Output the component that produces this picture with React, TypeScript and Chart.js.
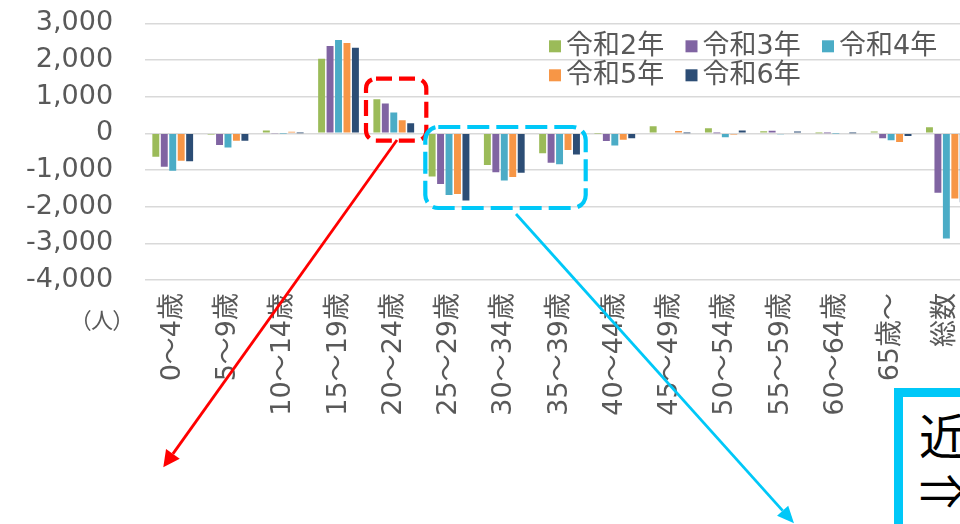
import React, { useEffect, useRef } from "react";
import { Chart, registerables } from "chart.js";

Chart.register(...registerables);

const categories = [
  "0～4歳", "5～9歳", "10～14歳", "15～19歳", "20～24歳", "25～29歳", "30～34歳",
  "35～39歳", "40～44歳", "45～49歳", "50～54歳", "55～59歳", "60～64歳", "65歳～", "総数",
];

const seriesLabels = ["令和2年", "令和3年", "令和4年", "令和5年", "令和6年"];

const r2 = [-640, -30, 80, 2030, 930, -1180, -865, -545, -5, 190, 135, 55, 5, 50, 165];
const r3 = [-910, -320, -10, 2380, 810, -1380, -1065, -800, -210, -20, 5, 70, 5, -135, -1620];
const r4 = [-1020, -390, -5, 2545, 565, -1680, -1290, -845, -335, -20, -110, -25, -5, -190, -2865];
const r5 = [-745, -200, 40, 2460, 355, -1655, -1190, -455, -175, 60, -30, 20, -20, -235, -1775];
const r6 = [-760, -200, 5, 2330, 275, -1830, -1075, -580, -135, 5, 80, 50, 5, -70, -1880];

const yMin = -4000;
const yMax = 3000;
const yStep = 1000;

const seriesColors = ["#9BBB59", "#8064A2", "#4BACC6", "#F79646", "#2C4D75"];

const FONT = "'DejaVu Sans', 'Noto Sans CJK JP', sans-serif";
const GRAY = "#595959";

const legendPlugin = {
  id: "customLegend",
  afterDraw(chart: any) {
    const ctx = chart.ctx;
    ctx.save();
    ctx.font = `27px ${FONT}`;
    ctx.textBaseline = "middle";
    ctx.textAlign = "left";
    chart.data.datasets.forEach((ds: any, i: number) => {
      const col = i % 3;
      const row = Math.floor(i / 3);
      const x = 549 + col * 136.5;
      const y = 46.3 + row * 29;
      ctx.fillStyle = ds.backgroundColor;
      ctx.fillRect(x, y - 6, 12, 12);
      ctx.fillStyle = GRAY;
      ctx.fillText(ds.label, x + 17, y + 1);
    });
    ctx.restore();
  },
};

function drawArrow(ctx: CanvasRenderingContext2D, x1: number, y1: number, x2: number, y2: number,
  color: string, lw: number, headLen: number, headW: number) {
  const ang = Math.atan2(y2 - y1, x2 - x1);
  const bx = x2 - headLen * Math.cos(ang);
  const by = y2 - headLen * Math.sin(ang);
  ctx.setLineDash([]);
  ctx.strokeStyle = color;
  ctx.lineWidth = lw;
  ctx.beginPath();
  ctx.moveTo(x1, y1);
  ctx.lineTo(bx, by);
  ctx.stroke();
  ctx.fillStyle = color;
  ctx.beginPath();
  ctx.moveTo(x2, y2);
  ctx.lineTo(bx + headW * Math.sin(ang), by - headW * Math.cos(ang));
  ctx.lineTo(bx - headW * Math.sin(ang), by + headW * Math.cos(ang));
  ctx.closePath();
  ctx.fill();
}

function dashedBox(ctx: any, x1: number, y1: number, x2: number, y2: number,
  color: string, lw: number, dash: number[], r: number) {
  ctx.setLineDash(dash);
  ctx.strokeStyle = color;
  ctx.lineWidth = lw;
  ctx.lineCap = "butt";
  ctx.beginPath();
  ctx.roundRect(x1, y1, x2 - x1, y2 - y1, r);
  ctx.stroke();
  ctx.setLineDash([]);
}

const annotationPlugin = {
  id: "annotations",
  afterDraw(chart: any) {
    const ctx = chart.ctx;
    ctx.save();
    dashedBox(ctx, 366, 78.7, 426.3, 140.7, "#FF0000", 4.2, [16, 7], 10);
    dashedBox(ctx, 425.3, 127, 585.7, 208, "#00C8F8", 4.2, [22, 7], 13);
    drawArrow(ctx, 397, 140, 163.3, 467.3, "#FF0000", 2.8, 16.5, 8.4);
    drawArrow(ctx, 516, 214, 794, 523.3, "#00C8F8", 2.8, 17, 7.5);
    ctx.restore();
  },
};

export default function App() {
  const canvasRef = useRef<HTMLCanvasElement | null>(null);

  useEffect(() => {
    if (!canvasRef.current) return;
    const seriesData = [r2, r3, r4, r5, r6];
    const chart = new Chart(canvasRef.current, {
      type: "bar",
      data: {
        labels: categories,
        datasets: seriesLabels.map((label, i) => ({
          label,
          data: seriesData[i],
          backgroundColor: seriesColors[i],
          borderWidth: 0,
          categoryPercentage: 0.765,
          barPercentage: 0.82,
        })),
      },
      options: {
        responsive: true,
        maintainAspectRatio: false,
        animation: false,
        layout: { padding: { top: 23.3, right: 22, left: 0, bottom: 0 } },
        plugins: {
          legend: { display: false },
          tooltip: { enabled: false },
        },
        scales: {
          x: {
            grid: { display: false, drawTicks: false },
            border: { display: false },
            ticks: {
              autoSkip: false,
              minRotation: 90,
              maxRotation: 90,
              padding: 13,
              color: GRAY,
              font: { family: FONT, size: 27 },
            },
            afterFit(scale: any) {
              scale.height = 244;
            },
          },
          y: {
            min: yMin,
            max: yMax,
            grid: {
              color: "#d9d9d9",
              lineWidth: 1.6,
              drawTicks: true,
              tickLength: 32,
              tickColor: "rgba(0,0,0,0)",
            },
            border: { display: false },
            ticks: {
              stepSize: yStep,
              padding: 0,
              color: GRAY,
              font: { family: FONT, size: 27 },
              callback: (v: any) => Number(v).toLocaleString("en-US"),
            },
            afterFit(scale: any) {
              scale.width = 145.1;
            },
          },
        },
      },
      plugins: [legendPlugin, annotationPlugin],
    });
    return () => chart.destroy();
  }, []);

  return (
    <div
      style={{
        position: "absolute",
        left: 0,
        top: 0,
        width: 960,
        height: 524,
        overflow: "hidden",
        background: "#ffffff",
      }}
    >
      <div style={{ position: "absolute", left: 0, top: 0, width: 996, height: 524 }}>
        <canvas ref={canvasRef} />
      </div>
      <div
        style={{
          position: "absolute",
          left: 80,
          top: 306,
          fontFamily: "'Noto Sans CJK JP', sans-serif",
          fontSize: 22,
          lineHeight: "24px",
          color: GRAY,
          fontFeatureSettings: "'palt'",
          whiteSpace: "nowrap",
        }}
      >
        （人）
      </div>
      <div
        style={{
          position: "absolute",
          left: 894,
          top: 388,
          width: 200,
          height: 200,
          boxSizing: "border-box",
          border: "9px solid #00C8F8",
          background: "#ffffff",
          paddingLeft: 16,
          paddingTop: 9,
          fontFamily: "'Noto Sans CJK JP', sans-serif",
          fontSize: 48,
          lineHeight: "55px",
          color: "#000000",
          whiteSpace: "nowrap",
        }}
      >
        近<br />⇒
      </div>
    </div>
  );
}
